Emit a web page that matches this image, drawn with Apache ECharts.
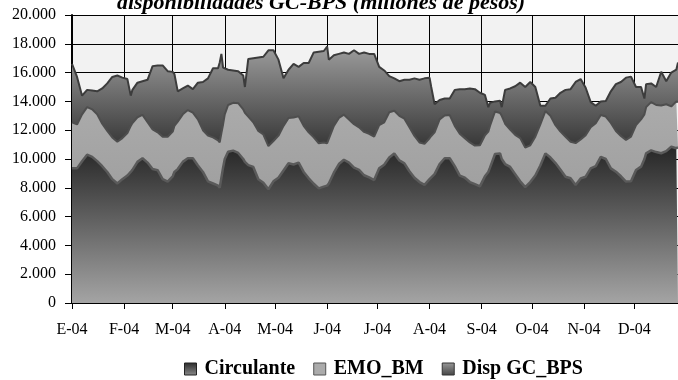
<!DOCTYPE html>
<html>
<head>
<meta charset="utf-8">
<script src="https://cdn.jsdelivr.net/npm/echarts@6/dist/echarts.min.js"></script>
<style>
html, body { margin: 0; padding: 0; background: #ffffff; }
#chart { width: 678px; height: 380px; }
</style>
</head>
<body>
<div id="chart"></div>
<script>
// Month tick labels (Spanish initials, year 2004)
const monthLabels = ['E-04', 'F-04', 'M-04', 'A-04', 'M-04', 'J-04', 'J-04', 'A-04', 'S-04', 'O-04', 'N-04', 'D-04'];

// Observation dates, as day offsets from 1 Jan 2004
const dayOfYear = [0, 3, 6, 9, 12, 15, 18, 21, 24, 27, 30, 33, 35, 36, 39, 42, 45, 48, 51, 54, 57, 60, 61, 63, 66, 69, 72, 75, 78, 81, 84, 87, 88, 89, 90, 91, 93, 96, 99, 102, 103, 105, 108, 111, 114, 117, 120, 123, 126, 129, 132, 135, 138, 141, 144, 147, 150, 152, 153, 156, 159, 162, 165, 168, 171, 174, 177, 180, 183, 186, 189, 192, 195, 198, 201, 204, 207, 210, 213, 214, 216, 219, 222, 225, 228, 231, 234, 237, 240, 243, 246, 248, 249, 252, 255, 256, 258, 261, 264, 267, 270, 273, 276, 279, 282, 285, 288, 291, 294, 297, 300, 303, 306, 309, 312, 315, 318, 321, 324, 327, 330, 333, 336, 339, 341, 342, 345, 348, 351, 354, 357, 360, 361];

// Millions of pesos
const circulante = [9350, 9350, 9850, 10300, 10150, 9850, 9500, 9100, 8600, 8300, 8600, 8850, 9100, 9250, 9800, 10050, 9750, 9300, 9220, 8600, 8430, 8800, 9100, 9300, 9800, 10050, 10050, 9550, 9100, 8450, 8300, 8150, 8000, 8700, 9400, 10000, 10500, 10580, 10420, 10000, 9800, 9580, 9450, 8600, 8350, 7900, 8450, 8700, 9200, 9700, 9620, 9750, 9100, 8660, 8280, 7960, 8080, 8150, 8300, 9050, 9650, 9950, 9750, 9400, 9250, 8870, 8720, 8540, 9350, 9600, 10100, 10380, 9900, 9700, 9150, 8700, 8400, 8200, 8600, 8700, 8950, 9650, 10050, 10050, 9500, 8850, 8700, 8400, 8250, 8100, 8800, 9100, 9400, 10350, 10390, 10000, 9650, 9450, 8950, 8450, 8050, 8400, 8850, 9550, 10390, 10100, 9720, 9250, 8770, 8660, 8200, 8650, 8770, 9350, 9500, 10150, 10000, 9350, 9120, 8800, 8430, 8450, 9240, 9470, 10000, 10390, 10600, 10480, 10400, 10550, 10850, 10750, 10800];

const emoBm = [3200, 3050, 3250, 3300, 3300, 3250, 2950, 2850, 2900, 2900, 2850, 2950, 3200, 3250, 3100, 3010, 2800, 2750, 2630, 2950, 3120, 3100, 3200, 3300, 3300, 3350, 3170, 3200, 2900, 3170, 3200, 3150, 3160, 3100, 3000, 3100, 3250, 3320, 3460, 3450, 3400, 3360, 3100, 3350, 3350, 3000, 2800, 2920, 3100, 3150, 3260, 3210, 3200, 3190, 3220, 3130, 3070, 2950, 2900, 3250, 3200, 3130, 3000, 3020, 2950, 3010, 3030, 3010, 3010, 2950, 3150, 2970, 3100, 3100, 3050, 2900, 2750, 2850, 2840, 2900, 2900, 3100, 2970, 3000, 2800, 2900, 2750, 2750, 2680, 2850, 2850, 2800, 2900, 2950, 2810, 3000, 2800, 2600, 2730, 3000, 2750, 2550, 2700, 2850, 2940, 2900, 2630, 2650, 2780, 2540, 2900, 2700, 2880, 2850, 2980, 2910, 2950, 3150, 2830, 2800, 2890, 3100, 3120, 3280, 3100, 3210, 3350, 3270, 3320, 3250, 2800, 3250, 3150];

const dispGcBps = [4050, 3300, 1300, 1200, 1300, 1600, 2450, 3300, 4200, 4600, 4200, 3750, 2100, 2300, 2400, 2340, 2950, 4400, 4650, 4950, 4550, 4150, 3600, 2100, 1800, 1700, 1630, 2550, 3350, 3980, 4800, 5000, 5540, 5500, 3950, 3150, 2450, 2250, 2220, 2350, 1800, 4010, 4450, 5100, 5400, 6650, 6300, 5280, 3300, 3350, 3720, 3440, 4370, 4820, 5900, 6360, 6350, 6700, 5700, 4900, 4450, 4320, 4550, 5130, 5100, 5520, 5550, 5750, 4040, 3600, 2500, 2250, 2400, 2700, 3300, 4000, 4350, 4550, 4210, 3400, 1950, 1350, 1180, 1150, 2500, 3100, 3400, 3750, 3920, 3650, 2800, 1700, 1600, 700, 850, 600, 2350, 2850, 3370, 3850, 4200, 4400, 3450, 1300, 370, 1200, 1900, 2700, 3250, 3650, 4250, 4200, 3300, 1750, 1220, 940, 1080, 2200, 3250, 3750, 4330, 4170, 2640, 2250, 1100, 1600, 1300, 1250, 2340, 1600, 2350, 2200, 2750];

const seriesNames = ['Circulante', 'EMO_BM', 'Disp GC_BPS'];

const DAY_MS = 86400000;
const startTime = Date.UTC(2004, 0, 1);
const endTime = startTime + 361 * DAY_MS;
const withDates = vals => vals.map((v, i) => [startTime + dayOfYear[i] * DAY_MS, v]);

const vGrad = stops => ({
  type: 'linear', x: 0, y: 0, x2: 0, y2: 1,
  colorStops: stops.map(([offset, color]) => ({ offset, color }))
});

const fills = [
  vGrad([[0, '#262626'], [1, '#a4a4a4']]),
  vGrad([[0, '#ababab'], [1, '#a0a0a0']]),
  vGrad([[0, '#9c9c9c'], [1, '#363636']])
];
const lineColors = ['#5a5a5a', '#4e4e4e', '#3c3c3c'];
const serif = '"Liberation Serif", "Times New Roman", serif';

const chart = echarts.init(document.getElementById('chart'), null, { renderer: 'canvas' });

chart.setOption({
  animation: false,
  useUTC: true,
  backgroundColor: '#ffffff',
  graphic: [{
    type: 'text',
    x: 321,
    y: 14,
    style: {
      text: 'disponibilidades GC-BPS (millones de pesos)',
      font: 'italic bold 22px ' + serif,
      fill: '#000000',
      textAlign: 'center',
      textVerticalAlign: 'bottom'
    }
  }],
  grid: {
    left: 72, right: 0, top: 15, bottom: 77,
    show: true, backgroundColor: '#f2f2f2', borderWidth: 0
  },
  legend: {
    left: 184, top: 359,
    padding: 0,
    icon: 'rect',
    itemWidth: 12, itemHeight: 12, itemGap: 18,
    textStyle: { fontFamily: serif, fontWeight: 'bold', fontSize: 20, color: '#000', padding: [0, 0, 0, 3] },
    data: [
      { name: seriesNames[0], itemStyle: { color: vGrad([[0, '#2a2a2a'], [1, '#8a8a8a']]), borderColor: '#222', borderWidth: 1 } },
      { name: seriesNames[1], itemStyle: { color: '#ababab', borderColor: '#555', borderWidth: 1 } },
      { name: seriesNames[2], itemStyle: { color: vGrad([[0, '#9a9a9a'], [1, '#444444']]), borderColor: '#333', borderWidth: 1 } }
    ]
  },
  xAxis: {
    type: 'time',
    min: startTime,
    max: endTime,
    splitNumber: 12,
    minInterval: 28 * DAY_MS,
    maxInterval: 31 * DAY_MS,
    axisLine: { show: true, lineStyle: { color: '#000', width: 2 } },
    axisTick: { show: true, length: 6, lineStyle: { color: '#000', width: 1 } },
    splitLine: { show: true, lineStyle: { color: '#000', width: 1 } },
    axisLabel: {
      margin: 19,
      fontFamily: serif, fontSize: 16, color: '#000',
      hideOverlap: false,
      formatter: value => {
        const d = new Date(value);
        return d.getUTCDate() === 1 ? monthLabels[d.getUTCMonth()] : '';
      }
    }
  },
  yAxis: {
    type: 'value',
    min: 0, max: 20000, interval: 2000,
    axisLine: { show: true, lineStyle: { color: '#000', width: 2 } },
    axisTick: { show: true, length: 7, lineStyle: { color: '#000', width: 1 } },
    splitLine: { show: true, lineStyle: { color: '#000', width: 1 } },
    axisLabel: {
      margin: 16,
      fontFamily: serif, fontSize: 16, color: '#000',
      formatter: v => (v === 0 ? '0' : (v / 1000).toFixed(3))
    }
  },
  series: [circulante, emoBm, dispGcBps].map((vals, i) => ({
    name: seriesNames[i],
    type: 'line',
    stack: 'total',
    z: 5 - i,
    symbol: 'none',
    data: withDates(vals),
    lineStyle: { color: lineColors[i], width: i === 0 ? 2.5 : 2 },
    itemStyle: { color: lineColors[i] },
    areaStyle: { color: fills[i], opacity: 1 }
  }))
});
</script>
</body>
</html>
